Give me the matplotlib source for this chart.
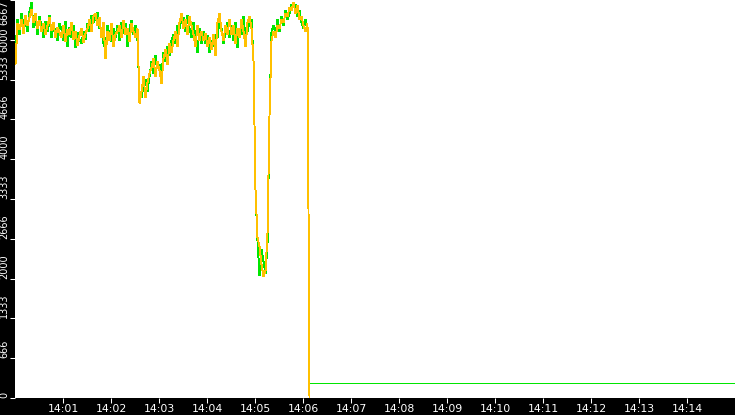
import numpy as np
import matplotlib
matplotlib.use("Agg")
import matplotlib.pyplot as plt

# Values, one sample every 2.5 s starting 14:00:00.
SAMPLE_SEC = 2.5

orange = [5610, 6280, 6180, 6350, 6120, 6420, 6250, 6380, 6520, 6300, 6450, 6200,
          6330, 6150, 6280, 6090, 6240, 6380, 6160, 6300, 6050, 6220, 6130,
          6050, 6250, 5980, 6180, 6100, 6300, 6020, 6150, 5920, 6080, 6200, 5960, 6110,
          6200, 6350, 6150, 6400, 6450, 6250, 6380,
          6050, 6300, 5700, 6150, 6000, 6280, 5900, 6100,
          6150, 6250, 6050, 6330, 6100, 6200, 5980, 6280, 6150, 6050, 6200,
          4940, 5150, 5400, 5050, 5300, 5450,
          5550, 5700, 5400, 5650, 5500, 5280,
          5700, 5850, 5600, 5950, 5800,
          6000, 6150, 5900, 6300, 6450,
          6200, 6350, 6100, 6400, 6250,
          6100, 5900, 6250, 6000, 6150,
          6000, 6120, 5900, 6050, 5850, 6100, 5750,
          6300, 6450, 6150, 6000, 6250, 6100, 6350,
          6100, 6250, 5950, 6200, 6050, 6350, 6150, 5900, 6300, 6400, 6200,
          5660, 3480, 2700, 2550, 2250, 2050, 2150, 2760, 4740,
          6000, 6150, 6050, 6250, 6200, 6350, 6300, 6450, 6400, 6550, 6500, 6640,
          6450, 6580, 6350, 6400, 6250, 6150, 6280]

green = [5830, 6350, 6100, 6450, 6250, 6300, 6150, 6480, 6640, 6220, 6380, 6100,
         6400, 6230, 6050, 6320, 6150, 6420, 6040, 6250, 6150, 6000, 6280,
         6180, 6000, 6320, 5900, 6220, 6050, 6250, 5880, 6130, 6010, 5950, 6150, 6020,
         6280, 6150, 6420, 6300, 6380, 6460, 6200,
         6200, 5950, 5850, 6250, 6100, 5980, 6200, 6050,
         6250, 6000, 6300, 6120, 6280, 5900, 6200, 6330, 6100, 6250, 6000,
         5100, 5050, 5250, 5350, 5150, 5400,
         5650, 5450, 5750, 5550, 5600, 5450,
         5800, 5650, 5900, 5750, 6000,
         6100, 5950, 6250, 6200, 6350,
         6380, 6150, 6420, 6200, 6050,
         6300, 6050, 5800, 6200, 5950,
         6150, 5950, 6080, 5800, 6000, 5900, 6100,
         6050, 6350, 6200, 5950, 6150, 6300, 6050,
         6250, 6000, 6300, 5880, 6200, 6100, 6400, 6050, 6150, 6300, 6350,
         5660, 3480, 2650, 2060, 2500, 2300, 2100, 2600, 4740,
         6150, 6250, 6100, 6350, 6150, 6400, 6250, 6500, 6350, 6450, 6600, 6550,
         6600, 6400, 6500, 6300, 6200, 6350, 6150]

# after the last drop (seconds after 14:00, value)
orange_tail_t = [366, 367]
orange_tail_v = [3150, 0]
green_tail_t = [366, 367, 367.5, 900]
green_tail_v = [3150, 130, 245, 245]

x_ticks = [60 * m for m in range(1, 15)]
x_labels = ["14:%02d" % m for m in range(1, 15)]
y_ticks = [0, 666, 1333, 2000, 2666, 3333, 4000, 4666, 5333, 6000, 6667]
y_labels = [str(v) for v in y_ticks]

t_orange = list(np.arange(len(orange)) * SAMPLE_SEC) + orange_tail_t
v_orange = orange + orange_tail_v
t_green = list(np.arange(len(green)) * SAMPLE_SEC) + green_tail_t
v_green = green + green_tail_v

fig = plt.figure(figsize=(7.35, 4.15), dpi=100, facecolor="black")
ax = fig.add_axes([15 / 735, 17 / 415, 720 / 735, 398 / 415])
ax.set_facecolor("white")
for s in ax.spines.values():
    s.set_visible(False)

ax.plot(t_green, v_green, color="#00e600", lw=0.7, antialiased=False, snap=True)
ax.plot(t_orange, v_orange, color="#ffc000", lw=0.7, antialiased=False, snap=True)

ax.set_xlim(0, 900)
ax.set_ylim(0, 6667)

ax.set_xticks(x_ticks)
ax.set_xticklabels(x_labels)
ax.set_yticks(y_ticks)
ax.set_yticklabels(y_labels, rotation=90)
ax.tick_params(axis="x", colors="white", length=3.6, width=0.75, pad=1, labelsize=7.8)
ax.tick_params(axis="y", colors="white", length=3.6, width=0.75, pad=0.5, labelsize=7)

# label placement like the original: text sits above its tick
for lab, v in zip(ax.get_yticklabels(), y_ticks):
    if v == 6667:
        lab.set_va("top")
    elif v == 6000:
        lab.set_va("center")
    else:
        lab.set_va("bottom")

fig.savefig("out.png", dpi=100, facecolor="black")
